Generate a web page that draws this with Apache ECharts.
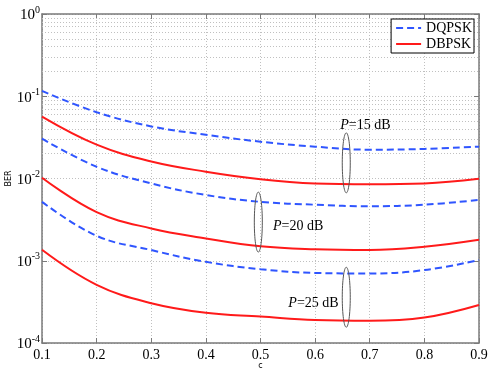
<!DOCTYPE html>
<html>
<head>
<meta charset="utf-8">
<script src="https://cdn.jsdelivr.net/npm/echarts@6/dist/echarts.min.js"></script>
<style>
  html, body { margin: 0; padding: 0; background: #fff; }
  #chart { width: 491px; height: 372px; }
</style>
</head>
<body>
<div id="chart"></div>
<script>
// c 取值
const cValues = [0.1, 0.2, 0.3, 0.4, 0.5, 0.6, 0.7, 0.8, 0.9]

// BER 曲线
const dqpsk15 = [0.116, 0.064, 0.043, 0.034, 0.028, 0.0244, 0.0224, 0.0229, 0.0244]
const dbpsk15 = [0.0566, 0.0258, 0.0161, 0.0121, 0.0098, 0.0087, 0.0085, 0.0087, 0.0099]
const dqpsk20 = [0.0305, 0.0139, 0.0087, 0.0063, 0.0052, 0.0048, 0.0046, 0.0048, 0.0055]
const dbpsk20 = [0.0102, 0.0039, 0.00247, 0.00187, 0.0015, 0.00138, 0.00135, 0.00148, 0.0018]
const dqpsk25 = [0.0052, 0.00201, 0.00135, 0.00097, 0.00079, 0.00071, 0.0007, 0.00077, 0.00102]
const dbpsk25 = [0.00136, 0.00051, 0.000305, 0.000233, 0.00021, 0.00019, 0.000186, 0.000204, 0.00029]

// 注释：椭圆中心 [c, BER] 和文字位置
const annotations = [
  { label: '=15 dB', ellipse: [0.657, 0.0155], text: [0.646, 0.0447] },
  { label: '=20 dB', ellipse: [0.496, 0.00295], text: [0.523, 0.00264] },
  { label: '=25 dB', ellipse: [0.657, 0.00036], text: [0.551, 0.000305] }
]

const decades = [1e-4, 1e-3, 1e-2, 1e-1]
const minorSteps = [2, 3, 4, 5, 6, 7, 8, 9]

const BLUE = '#2f55ff'
const RED = '#ff1a1a'
const GRID = '#c0c0c0'
const AXIS = '#7a7a7a'
const SERIF = '"Liberation Serif", "DejaVu Serif", serif'

const toPairs = (ys) => cValues.map((c, i) => [c, ys[i]])

// 次网格线
const minorLines = []
decades.forEach(d => minorSteps.forEach(m => minorLines.push({ yAxis: d * m })))

const makeSeries = (name, ys, dashed, withGrid) => {
  const s = {
    name,
    type: 'line',
    data: toPairs(ys),
    smooth: 0.4,
    symbol: 'none',
    silent: true,
    lineStyle: {
      color: dashed ? BLUE : RED,
      width: 2,
      type: dashed ? [7, 4] : 'solid'
    },
    itemStyle: { color: dashed ? BLUE : RED },
    z: 5
  }
  if (withGrid) {
    s.markLine = {
      silent: true,
      symbol: 'none',
      label: { show: false },
      lineStyle: { color: GRID, type: [1, 2], width: 1 },
      data: minorLines,
      z: 1
    }
  }
  return s
}

const chart = echarts.init(document.getElementById('chart'))

const yLabel = (v) => {
  const e = Math.round(Math.log10(v))
  return '{b|10}{s|' + (e < 0 ? '-' + (-e) : e) + '}'
}

chart.setOption({
  animation: false,
  grid: { left: 42, right: 12, top: 14, bottom: 29, outerBoundsMode: 'none', containLabel: false },
  legend: {
    data: ['DQPSK', 'DBPSK'],
    orient: 'vertical',
    right: 17,
    top: 19,
    itemWidth: 25,
    itemHeight: 14,
    itemGap: 2,
    padding: [2, 2, 2, 4],
    borderColor: '#000',
    borderWidth: 1,
    borderRadius: 0,
    backgroundColor: '#fff',
    itemStyle: { opacity: 0 },
    textStyle: { fontFamily: SERIF, fontSize: 14, color: '#000' }
  },
  xAxis: [
    {
      type: 'value',
      min: 0.1,
      max: 0.9,
      interval: 0.1,
      name: 'c',
      nameLocation: 'middle',
      nameGap: 19,
      nameMoveOverlap: false,
      nameTextStyle: { fontFamily: 'DejaVu Sans', fontSize: 8, color: '#000' },
      axisLine: { lineStyle: { color: AXIS, width: 1.5 } },
      axisTick: { inside: true, length: 5, lineStyle: { color: AXIS } },
      axisLabel: {
        fontFamily: SERIF, fontSize: 14, color: '#000', margin: 5,
        formatter: (v) => v.toFixed(1)
      },
      splitLine: { show: true, lineStyle: { color: GRID, type: [1, 2] } }
    },
    {
      type: 'value',
      position: 'top',
      min: 0.1,
      max: 0.9,
      interval: 0.1,
      axisLine: { lineStyle: { color: AXIS, width: 1.5 } },
      axisTick: { inside: true, length: 5, lineStyle: { color: AXIS } },
      axisLabel: { show: false },
      splitLine: { show: false }
    }
  ],
  yAxis: [
    {
      type: 'log',
      logBase: 10,
      min: 1e-4,
      max: 1,
      name: 'BER',
      nameLocation: 'middle',
      nameGap: 29,
      nameRotate: 90,
      nameMoveOverlap: false,
      nameTextStyle: { fontFamily: 'DejaVu Sans', fontSize: 8, color: '#000' },
      axisLine: { show: true, lineStyle: { color: AXIS, width: 1.5 } },
      axisTick: { show: true, inside: true, length: 5, lineStyle: { color: AXIS } },
      axisLabel: {
        margin: 2,
        formatter: yLabel,
        rich: {
          b: { fontFamily: SERIF, fontSize: 15, color: '#000', lineHeight: 18, verticalAlign: 'bottom' },
          s: { fontFamily: SERIF, fontSize: 10, color: '#000', lineHeight: 10, verticalAlign: 'top' }
        }
      },
      splitLine: { show: true, lineStyle: { color: GRID, type: [1, 2] } }
    },
    {
      type: 'log',
      logBase: 10,
      min: 1e-4,
      max: 1,
      position: 'right',
      axisLine: { show: true, lineStyle: { color: AXIS, width: 1.5 } },
      axisTick: { show: true, inside: true, length: 5, lineStyle: { color: AXIS } },
      axisLabel: { show: false },
      splitLine: { show: false }
    }
  ],
  series: [
    makeSeries('DQPSK', dqpsk15, true, true),
    makeSeries('DBPSK', dbpsk15, false, false),
    makeSeries('DQPSK', dqpsk20, true, false),
    makeSeries('DBPSK', dbpsk20, false, false),
    makeSeries('DQPSK', dqpsk25, true, false),
    makeSeries('DBPSK', dbpsk25, false, false)
  ]
})

// 椭圆和 P=xx dB 标注
const graphics = []
annotations.forEach(a => {
  const [ex, ey] = chart.convertToPixel({ xAxisIndex: 0, yAxisIndex: 0 }, a.ellipse)
  const [tx, ty] = chart.convertToPixel({ xAxisIndex: 0, yAxisIndex: 0 }, a.text)
  graphics.push({
    type: 'ellipse',
    shape: { cx: ex, cy: ey, rx: 4, ry: 30 },
    style: { fill: 'none', stroke: '#555', lineWidth: 1 },
    z: 10
  })
  graphics.push({
    type: 'text',
    x: tx,
    y: ty,
    style: {
      text: '{i|P}{n|' + a.label + '}',
      verticalAlign: 'middle',
      align: 'left',
      rich: {
        i: { fontFamily: SERIF, fontSize: 14, fontStyle: 'italic', fill: '#000' },
        n: { fontFamily: SERIF, fontSize: 14, fill: '#000' }
      }
    },
    z: 10
  })
})
chart.setOption({ graphic: graphics })
</script>
</body>
</html>
